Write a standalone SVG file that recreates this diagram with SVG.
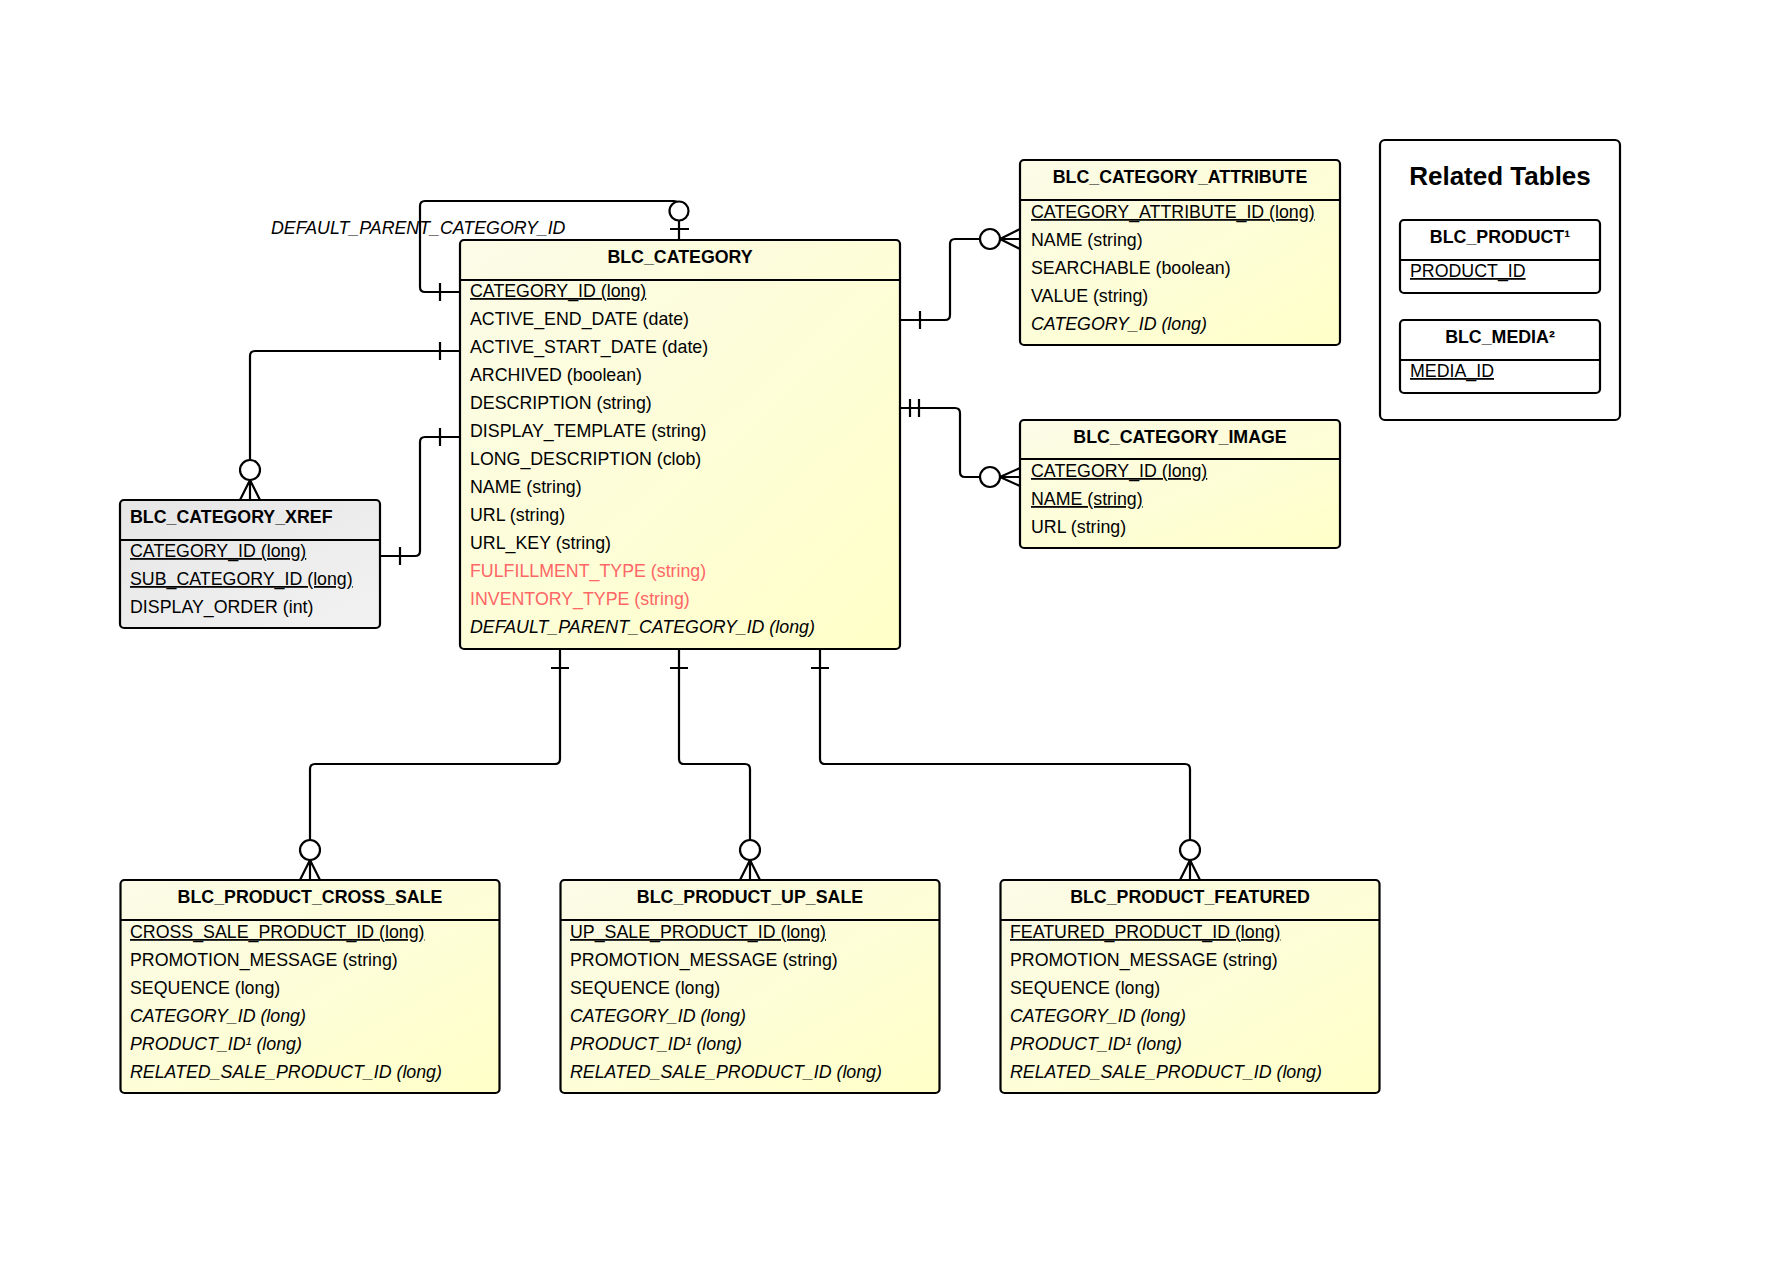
<svg xmlns="http://www.w3.org/2000/svg" width="1769" height="1276" viewBox="0 0 1769 1276">
<defs>
<linearGradient id="yel" x1="0" y1="0" x2="1" y2="1">
<stop offset="0" stop-color="#fbfbe8"/>
<stop offset="1" stop-color="#ffffc8"/>
</linearGradient>
<linearGradient id="gry" x1="0" y1="0" x2="1" y2="1">
<stop offset="0" stop-color="#e6e6e6"/>
<stop offset="1" stop-color="#f2f2f2"/>
</linearGradient>
</defs>
<style>
text{font-family:"Liberation Sans",Arial,sans-serif;font-size:17.8px;fill:#000}
.t{font-weight:bold;text-anchor:middle}
.tl{font-weight:bold}
.u{text-decoration:underline}
.i{font-style:italic}
.r{fill:#f66}
.box{fill:url(#yel);stroke:#000;stroke-width:2.2}
.gbox{fill:url(#gry);stroke:#000;stroke-width:2.2}
.wbox{fill:#fff;stroke:#000;stroke-width:2.2}
.div{stroke:#000;stroke-width:2}
.ln{fill:none;stroke:#000;stroke-width:2.2}
.c{fill:#fff;stroke:#000;stroke-width:2.2}
.big{font-size:26px;font-weight:bold;text-anchor:middle}
</style>
<rect width="1769" height="1276" fill="#fff"/>

<g id="connectors">
<path class="ln" d="M460 292H425Q420 292 420 287V206Q420 201 425 201H674Q679 201 679 206V240"/>
<path class="ln" d="M440 283V301M670 229H689"/>
<circle class="c" cx="679" cy="211" r="9.5"/>
<text class="i" x="271" y="234">DEFAULT_PARENT_CATEGORY_ID</text>

<path class="ln" d="M460 351H255Q250 351 250 356V460"/>
<path class="ln" d="M440 342V360M250 480L240 500M250 480L260 500M250 480V500"/>
<circle class="c" cx="250" cy="470" r="10"/>

<path class="ln" d="M380 556H415Q420 556 420 551V442Q420 437 425 437H460"/>
<path class="ln" d="M400 547V565M440 428V446"/>

<path class="ln" d="M900 320H945Q950 320 950 315V244Q950 239 955 239H980"/>
<path class="ln" d="M920 311V329M1000 239L1020 229M1000 239L1020 249M1000 239H1020"/>
<circle class="c" cx="990" cy="239" r="10"/>

<path class="ln" d="M900 408H955Q960 408 960 413V472Q960 477 965 477H980"/>
<path class="ln" d="M910 399V417M919 399V417M1000 477L1020 468M1000 477L1020 486M1000 477H1020"/>
<circle class="c" cx="990" cy="477" r="10"/>

<path class="ln" d="M560 649V759Q560 764 555 764H315Q310 764 310 769V840"/>
<path class="ln" d="M551 668H569M310 860L300 880M310 860L320 880M310 860V880"/>
<circle class="c" cx="310" cy="850" r="10"/>

<path class="ln" d="M679 649V759Q679 764 684 764H745Q750 764 750 769V840"/>
<path class="ln" d="M670 668H688M750 860L740 880M750 860L760 880M750 860V880"/>
<circle class="c" cx="750" cy="850" r="10"/>

<path class="ln" d="M820 649V759Q820 764 825 764H1185Q1190 764 1190 769V840"/>
<path class="ln" d="M811 668H829M1190 860L1180 880M1190 860L1200 880M1190 860V880"/>
<circle class="c" cx="1190" cy="850" r="10"/>
</g>

<g id="blc_category">
<rect class="box" x="460" y="240" width="440" height="409" rx="4"/>
<line class="div" x1="460" y1="280" x2="900" y2="280"/>
<text class="t" x="680" y="263">BLC_CATEGORY</text>
<text class="u" x="470" y="297">CATEGORY_ID (long)</text>
<text x="470" y="325">ACTIVE_END_DATE (date)</text>
<text x="470" y="353">ACTIVE_START_DATE (date)</text>
<text x="470" y="381">ARCHIVED (boolean)</text>
<text x="470" y="409">DESCRIPTION (string)</text>
<text x="470" y="437">DISPLAY_TEMPLATE (string)</text>
<text x="470" y="465">LONG_DESCRIPTION (clob)</text>
<text x="470" y="493">NAME (string)</text>
<text x="470" y="521">URL (string)</text>
<text x="470" y="549">URL_KEY (string)</text>
<text class="r" x="470" y="577">FULFILLMENT_TYPE (string)</text>
<text class="r" x="470" y="605">INVENTORY_TYPE (string)</text>
<text class="i" x="470" y="633">DEFAULT_PARENT_CATEGORY_ID (long)</text>
</g>

<g id="blc_category_attribute">
<rect class="box" x="1020" y="160" width="320" height="185" rx="4"/>
<line class="div" x1="1020" y1="200" x2="1340" y2="200"/>
<text class="t" x="1180" y="183">BLC_CATEGORY_ATTRIBUTE</text>
<text class="u" x="1031" y="218">CATEGORY_ATTRIBUTE_ID (long)</text>
<text x="1031" y="246">NAME (string)</text>
<text x="1031" y="274">SEARCHABLE (boolean)</text>
<text x="1031" y="302">VALUE (string)</text>
<text class="i" x="1031" y="330">CATEGORY_ID (long)</text>
</g>

<g id="blc_category_image">
<rect class="box" x="1020" y="420" width="320" height="128" rx="4"/>
<line class="div" x1="1020" y1="459" x2="1340" y2="459"/>
<text class="t" x="1180" y="443">BLC_CATEGORY_IMAGE</text>
<text class="u" x="1031" y="477">CATEGORY_ID (long)</text>
<text class="u" x="1031" y="505">NAME (string)</text>
<text x="1031" y="533">URL (string)</text>
</g>

<g id="blc_category_xref">
<rect class="gbox" x="120" y="500" width="260" height="128" rx="4"/>
<line class="div" x1="120" y1="540" x2="380" y2="540"/>
<text class="tl" x="130" y="523">BLC_CATEGORY_XREF</text>
<text class="u" x="130" y="557">CATEGORY_ID (long)</text>
<text class="u" x="130" y="585">SUB_CATEGORY_ID (long)</text>
<text x="130" y="613">DISPLAY_ORDER (int)</text>
</g>

<g id="blc_product_cross_sale">
<rect class="box" x="120.5" y="880" width="379" height="213" rx="4"/>
<line class="div" x1="120.5" y1="920" x2="499.5" y2="920"/>
<text class="t" x="310" y="903">BLC_PRODUCT_CROSS_SALE</text>
<text class="u" x="130" y="938">CROSS_SALE_PRODUCT_ID (long)</text>
<text x="130" y="966">PROMOTION_MESSAGE (string)</text>
<text x="130" y="994">SEQUENCE (long)</text>
<text class="i" x="130" y="1022">CATEGORY_ID (long)</text>
<text class="i" x="130" y="1050">PRODUCT_ID¹ (long)</text>
<text class="i" x="130" y="1078">RELATED_SALE_PRODUCT_ID (long)</text>
</g>

<g id="blc_product_up_sale">
<rect class="box" x="560.5" y="880" width="379" height="213" rx="4"/>
<line class="div" x1="560.5" y1="920" x2="939.5" y2="920"/>
<text class="t" x="750" y="903">BLC_PRODUCT_UP_SALE</text>
<text class="u" x="570" y="938">UP_SALE_PRODUCT_ID (long)</text>
<text x="570" y="966">PROMOTION_MESSAGE (string)</text>
<text x="570" y="994">SEQUENCE (long)</text>
<text class="i" x="570" y="1022">CATEGORY_ID (long)</text>
<text class="i" x="570" y="1050">PRODUCT_ID¹ (long)</text>
<text class="i" x="570" y="1078">RELATED_SALE_PRODUCT_ID (long)</text>
</g>

<g id="blc_product_featured">
<rect class="box" x="1000.5" y="880" width="379" height="213" rx="4"/>
<line class="div" x1="1000.5" y1="920" x2="1379.5" y2="920"/>
<text class="t" x="1190" y="903">BLC_PRODUCT_FEATURED</text>
<text class="u" x="1010" y="938">FEATURED_PRODUCT_ID (long)</text>
<text x="1010" y="966">PROMOTION_MESSAGE (string)</text>
<text x="1010" y="994">SEQUENCE (long)</text>
<text class="i" x="1010" y="1022">CATEGORY_ID (long)</text>
<text class="i" x="1010" y="1050">PRODUCT_ID¹ (long)</text>
<text class="i" x="1010" y="1078">RELATED_SALE_PRODUCT_ID (long)</text>
</g>

<g id="related_tables">
<rect class="wbox" x="1380" y="140" width="240" height="280" rx="5"/>
<text class="big" x="1500" y="185">Related Tables</text>
</g>

<g id="blc_product">
<rect class="wbox" x="1400" y="220" width="200" height="73" rx="4"/>
<line class="div" x1="1400" y1="260" x2="1600" y2="260"/>
<text class="t" x="1500" y="243">BLC_PRODUCT¹</text>
<text class="u" x="1410" y="277">PRODUCT_ID</text>
</g>

<g id="blc_media">
<rect class="wbox" x="1400" y="320" width="200" height="73" rx="4"/>
<line class="div" x1="1400" y1="360" x2="1600" y2="360"/>
<text class="t" x="1500" y="343">BLC_MEDIA²</text>
<text class="u" x="1410" y="377">MEDIA_ID</text>
</g>
</svg>
